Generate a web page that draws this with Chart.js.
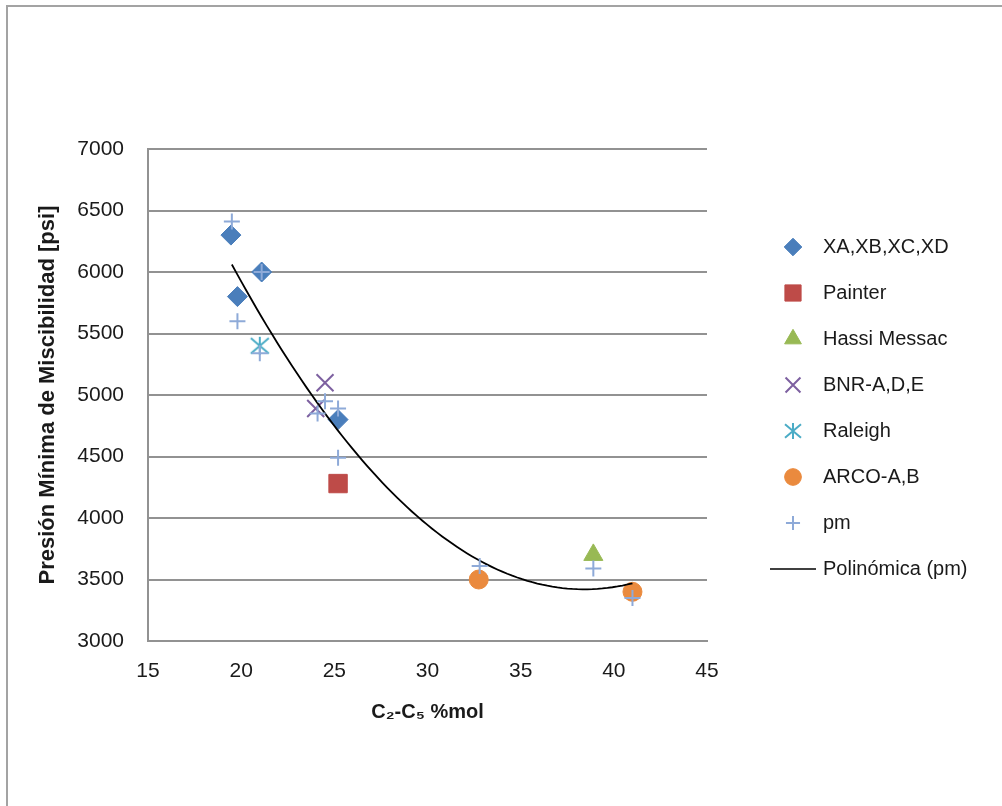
<!DOCTYPE html>
<html>
<head>
<meta charset="utf-8">
<script src="https://cdn.jsdelivr.net/npm/chart.js@4.4.1/dist/chart.umd.min.js"></script>
<style>
html, body { margin: 0; padding: 0; background: #fff; }
body { width: 1002px; height: 806px; overflow: hidden; position: relative; }
#frame { position: absolute; left: 6px; top: 5px; width: 1020px; height: 830px; border: 2px solid #a3a3a3; }
#plot { position: absolute; left: 0; top: 0; }
</style>
</head>
<body>
<div id="frame"></div>
<canvas id="plot" width="1002" height="806"></canvas>
<script>
// C2-C5 %mol vs presión mínima de miscibilidad
const xaX = [19.45, 19.8, 21.1, 25.2];
const xaY = [6300, 5800, 6000, 4800];
const painterX = [25.2];
const painterY = [4280];
const hassiX = [38.9];
const hassiY = [3700];
const bnrX = [24.5, 24.0];
const bnrY = [5100, 4890];
const raleighX = [21.0];
const raleighY = [5400];
const arcoX = [32.75, 41.0];
const arcoY = [3500, 3400];
const pmX = [19.5, 19.8, 21.0, 21.1, 24.1, 24.5, 25.2, 25.2, 32.8, 38.9, 41.0];
const pmY = [6410, 5600, 5340, 6000, 4850, 4950, 4890, 4490, 3610, 3590, 3350];

const xTicks = [15, 20, 25, 30, 35, 40, 45];
const yTicks = [3000, 3500, 4000, 4500, 5000, 5500, 6000, 6500, 7000];

const font = '"Liberation Sans", Arial, sans-serif';
const gridColor = '#929292';

function pts(xs, ys) {
    return xs.map((x, i) => ({ x: x, y: ys[i] }));
}

// least squares, order 2 (like the spreadsheet "Polinómica" trendline)
function quadFit(xs, ys) {
    const s = [0, 0, 0, 0, 0];
    const t = [0, 0, 0];
    xs.forEach((x, i) => {
        let p = 1;
        for (let k = 0; k < 5; k++) {
            s[k] += p;
            if (k < 3) t[k] += p * ys[i];
            p *= x;
        }
    });
    const m = [
        [s[0], s[1], s[2], t[0]],
        [s[1], s[2], s[3], t[1]],
        [s[2], s[3], s[4], t[2]]
    ];
    for (let i = 0; i < 3; i++) {
        for (let j = i + 1; j < 3; j++) {
            const f = m[j][i] / m[i][i];
            for (let k = i; k < 4; k++) m[j][k] -= f * m[i][k];
        }
    }
    const c = [0, 0, 0];
    for (let i = 2; i >= 0; i--) {
        let v = m[i][3];
        for (let k = i + 1; k < 3; k++) v -= m[i][k] * c[k];
        c[i] = v / m[i][i];
    }
    return c;
}

const coef = quadFit(pmX, pmY);
const xMin = Math.min(...pmX);
const xMax = Math.max(...pmX);
const trend = [];
for (let i = 0; i <= 80; i++) {
    const x = xMin + (xMax - xMin) * i / 80;
    trend.push({ x: x, y: coef[0] + coef[1] * x + coef[2] * x * x });
}

function markerCanvas(w, h, paint) {
    const c = document.createElement('canvas');
    c.width = w;
    c.height = h;
    paint(c.getContext('2d'), w / 2, h / 2);
    return c;
}

function asterisk(size) {
    const r = size / 2;
    return markerCanvas(size + 4, size + 4, (g, cx, cy) => {
        g.strokeStyle = '#4bacc6';
        g.lineWidth = 2;
        g.beginPath();
        g.moveTo(cx - r, cy - r * 0.85); g.lineTo(cx + r, cy + r * 0.85);
        g.moveTo(cx - r, cy + r * 0.85); g.lineTo(cx + r, cy - r * 0.85);
        g.moveTo(cx, cy - r); g.lineTo(cx, cy + r);
        g.stroke();
    });
}

const datasets = [
    { label: 'XA,XB,XC,XD', data: pts(xaX, xaY), pointStyle: 'rectRot', pointRadius: 10,
      backgroundColor: '#4a7ebb', borderColor: '#4a7ebb', borderWidth: 1, order: 2 },
    { label: 'Painter', data: pts(painterX, painterY), pointStyle: 'rect', pointRadius: 13,
      backgroundColor: '#be4b48', borderColor: '#be4b48', borderWidth: 1, order: 2 },
    { label: 'Hassi Messac', data: pts(hassiX, hassiY), pointStyle: 'triangle', pointRadius: 11,
      backgroundColor: '#98b954', borderColor: '#98b954', borderWidth: 1, order: 2 },
    { label: 'BNR-A,D,E', data: pts(bnrX, bnrY), pointStyle: 'crossRot', pointRadius: 12,
      backgroundColor: '#7d60a0', borderColor: '#7d60a0', borderWidth: 2, order: 2 },
    { label: 'Raleigh', data: pts(raleighX, raleighY), pointStyle: asterisk(18), pointRadius: 10,
      backgroundColor: '#4bacc6', borderColor: '#4bacc6', borderWidth: 2, order: 2 },
    { label: 'ARCO-A,B', data: pts(arcoX, arcoY), pointStyle: 'circle', pointRadius: 9.5,
      backgroundColor: '#ea8a3e', borderColor: '#ea8a3e', borderWidth: 1, order: 2 },
    { label: 'pm', data: pts(pmX, pmY), pointStyle: 'cross', pointRadius: 8,
      backgroundColor: '#8eaad8', borderColor: '#8eaad8', borderWidth: 2, order: 0 },
    { label: 'Polinómica (pm)', data: trend, showLine: true, pointRadius: 0, pointStyle: 'line',
      borderColor: '#000', backgroundColor: '#000', borderWidth: 1.8, tension: 0, order: 1 }
];

// legend symbols, same shapes a bit smaller, in a fixed 40px slot
const legendIcons = datasets.map((ds, i) => {
    if (i === 7) {
        return markerCanvas(46, 4, (g, cx, cy) => {
            g.strokeStyle = '#000';
            g.lineWidth = 1.6;
            g.beginPath();
            g.moveTo(0, cy); g.lineTo(46, cy);
            g.stroke();
        });
    }
    if (i === 4) return asterisk(16);
    return markerCanvas(40, 30, (g, cx, cy) => {
        g.fillStyle = ds.backgroundColor;
        g.strokeStyle = ds.borderColor;
        g.lineWidth = ds.borderWidth;
        Chart.helpers.drawPoint(g, {
            pointStyle: ds.pointStyle, radius: ds.pointRadius * 0.88,
            borderWidth: ds.borderWidth, rotation: 0
        }, cx, cy);
    });
});

Chart.defaults.font.family = font;
Chart.defaults.color = '#1a1a1a';

new Chart(document.getElementById('plot'), {
    type: 'scatter',
    data: { datasets: datasets },
    options: {
        responsive: false,
        animation: false,
        layout: { padding: { left: 10, top: 149, right: 27, bottom: 65 } },
        plugins: {
            tooltip: { enabled: false },
            legend: {
                position: 'right',
                fullSize: false,
                maxWidth: 228,
                title: { display: true, text: '', padding: { top: 7, bottom: 7 }, font: { size: 10 } },
                labels: {
                    font: { size: 20 },
                    color: '#1a1a1a',
                    padding: 26,
                    usePointStyle: true,
                    pointStyleWidth: 40,
                    sort: (a, b) => a.datasetIndex - b.datasetIndex,
                    generateLabels: chart => Chart.defaults.plugins.legend.labels.generateLabels(chart)
                        .map(item => Object.assign(item, { pointStyle: legendIcons[item.datasetIndex] }))
                }
            }
        },
        scales: {
            x: {
                type: 'linear',
                min: 15,
                max: 45,
                afterBuildTicks: s => { s.ticks = xTicks.map(v => ({ value: v })); },
                ticks: { font: { size: 21 }, padding: 18, color: '#1a1a1a', callback: v => String(v) },
                grid: { display: false, drawTicks: false },
                border: { display: true, color: gridColor, width: 2 },
                title: { display: true, text: 'C₂-C₅ %mol', font: { size: 20, weight: 'bold' },
                         color: '#1a1a1a', padding: { top: 0, bottom: 17 } },
                afterFit: s => { s.height = 100; }
            },
            y: {
                type: 'linear',
                min: 3000,
                max: 7000,
                afterBuildTicks: s => { s.ticks = yTicks.map(v => ({ value: v })); },
                ticks: { font: { size: 21 }, padding: 24, color: '#1a1a1a', callback: v => String(v) },
                grid: { color: gridColor, lineWidth: 2, drawTicks: false },
                border: { display: true, color: gridColor, width: 2 },
                title: { display: true, text: 'Presión Mínima de Miscibilidad [psi]',
                         font: { size: 22, weight: 'bold' }, color: '#1a1a1a', padding: { top: 25, bottom: 0 } },
                afterFit: s => { s.width = 138; }
            },
            gap: {
                type: 'linear',
                position: 'right',
                min: 0,
                max: 1,
                ticks: { display: false },
                grid: { display: false, drawTicks: false },
                border: { display: false },
                afterFit: s => { s.width = 40; }
            }
        }
    }
});
</script>
</body>
</html>
